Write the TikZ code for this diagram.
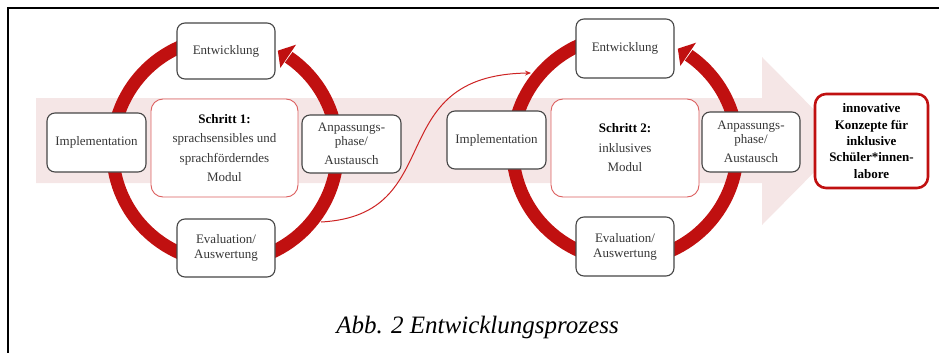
\documentclass[tikz,border=0pt]{standalone}
\usepackage{fontspec}
\setmainfont{Liberation Serif}
\usetikzlibrary{arrows.meta,calc}
\definecolor{ringred}{RGB}{192,16,16}
\definecolor{bandpink}{RGB}{245,230,230}
\definecolor{softred}{RGB}{220,95,95}
\definecolor{boxgray}{RGB}{70,70,70}
\definecolor{txtgray}{RGB}{55,55,55}
\definecolor{linkred}{RGB}{205,35,35}
\begin{document}
\begin{tikzpicture}[x=1pt,y=-1pt,
  stage/.style={draw=boxgray, line width=1.1pt, fill=white, rounded corners=8pt,
    minimum width=98pt, minimum height=58pt, inner sep=0pt,
    font=\fontsize{13}{15}\selectfont, text=txtgray, align=center},
  core/.style={draw=softred, line width=0.9pt, fill=white, rounded corners=12pt,
    minimum width=147pt, minimum height=98pt, inner sep=0pt,
    font=\fontsize{13}{19.5}\selectfont, text=txtgray, align=center},
  result/.style={draw=ringred, line width=2.6pt, fill=white, rounded corners=11pt,
    minimum width=113pt, minimum height=94pt, inner sep=0pt,
    font=\fontsize{13}{16.3}\selectfont\bfseries, text=black, align=center},
  ring/.style={draw=ringred, line width=13pt},
  ringtip/.style={fill=ringred, draw=none},
  link/.style={draw=linkred, line width=1pt, -{Stealth[length=6pt,width=5pt]}},
  frame/.style={draw=black, line width=1.2pt}
]
\useasboundingbox (0,0) rectangle (939,353);
% frame
\draw[frame] (8,353) -- (8,8) -- (939,8);
% background band arrow
\fill[bandpink] (36,98) -- (762,98) -- (762,57) -- (845,141) -- (762,225) -- (762,183) -- (36,183) -- cycle;
% ring 1
\coordinate (c1) at (225,150);
\draw[ring] ($(c1)+(-55.5:112.5)$) arc[start angle=-55.5, end angle=260, radius=112.5];
\fill[ringtip] ($(c1)+(-56:99)$) -- ($(c1)+(-62:112.5)$) -- ($(c1)+(-56:127)$) -- cycle;
% ring 2
\coordinate (c2) at (625,148);
\draw[ring] ($(c2)+(-55.5:112.5)$) arc[start angle=-55.5, end angle=260, radius=112.5];
\fill[ringtip] ($(c2)+(-56:99)$) -- ($(c2)+(-62:112.5)$) -- ($(c2)+(-56:127)$) -- cycle;
% connector
\coordinate (r1out) at (321,222);
\coordinate (r2in) at (531,73);
\draw[link] (r1out) .. controls (450,215) and (380,75) .. (r2in);
% cycle 1 boxes
\node[stage, minimum height=56pt] (E1) at (226,51) {Entwicklung};
\node[stage, minimum width=99pt, minimum height=59pt] (I1) at (96.5,142.5) {Implementation};
\node[core] (C1) at (224.5,148) {\textcolor{black}{\textbf{Schritt 1:}}\\sprachsensibles und\\sprachförderndes\\Modul};
\node[stage, minimum width=99pt, font=\fontsize{13}{14}\selectfont] (A1) at (351.5,144) {Anpassungs-\\phase/\\[5pt]Austausch};
\node[stage] (V1) at (226,248) {Evaluation/\\Auswertung};
% cycle 2 boxes
\node[stage, minimum height=59pt] (E2) at (625,48.5) {Entwicklung};
\node[stage, minimum width=99pt] (I2) at (496.5,140) {Implementation};
\node[core, minimum width=148pt] (C2) at (625,148) {\textcolor{black}{\textbf{Schritt 2:}}\\inklusives\\Modul};
\node[stage, minimum height=60pt, font=\fontsize{13}{14}\selectfont] (A2) at (751,142) {Anpassungs-\\phase/\\[5pt]Austausch};
\node[stage, minimum height=59pt] (V2) at (625,246.5) {Evaluation/\\Auswertung};
% result
\node[result] (R) at (871.5,141) {innovative\\Konzepte für\\inklusive\\Schüler*innen-\\labore};
% caption
\node[font=\fontsize{25}{30}\selectfont\itshape, anchor=base, inner sep=0pt] (cap) at (477.5,333) {Abb. 2 Entwicklungsprozess};
\end{tikzpicture}
\end{document}
